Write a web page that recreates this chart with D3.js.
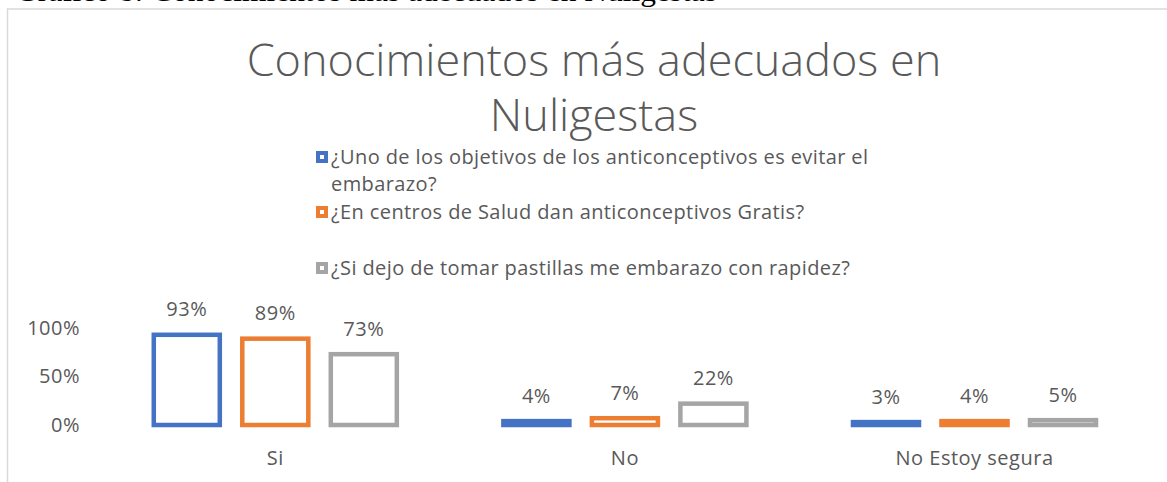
<!DOCTYPE html>
<html>
<head>
<meta charset="utf-8">
<script src="https://cdn.jsdelivr.net/npm/d3@7"></script>
<style>
  html, body { margin: 0; padding: 0; background: #fff; overflow: hidden; }
  svg text { font-family: "Open Sans", "Noto Sans", sans-serif; fill: #595959; }
  .caption { font-family: "Liberation Serif", "Times New Roman", serif; fill: #000; }
</style>
</head>
<body>
<div id="chart"></div>
<script>
const categories = ["Si", "No", "No Estoy segura"];
const seriesNames = [
  "¿Uno de los objetivos de los anticonceptivos es evitar el embarazo?",
  "¿En centros de Salud dan anticonceptivos Gratis?",
  "¿Si dejo de tomar pastillas me embarazo con rapidez?"
];
const seriesValues = [
  [0.93, 0.04, 0.03],
  [0.89, 0.07, 0.04],
  [0.73, 0.22, 0.05]
];
const yTicks = [0, 0.5, 1];
const colors = ["#4472C4", "#ED7D31", "#A5A5A5"];

const W = 1167, H = 482;
const svg = d3.select("#chart").append("svg")
  .attr("width", W).attr("height", H);

// caption of the document, cut at the top edge
svg.append("text").attr("class", "caption")
  .attr("x", 15).attr("y", 1)
  .attr("font-size", 30)
  .attr("textLength", 702).attr("lengthAdjust", "spacingAndGlyphs")
  .text("Gráfico 8: Conocimientos más adecuados en Nuligestas");

// chart area border
svg.append("rect")
  .attr("x", 7.5).attr("y", 9)
  .attr("width", 1200).attr("height", 500)
  .attr("fill", "none").attr("stroke", "#d9d9d9").attr("stroke-width", 1.5);

// title
const title = svg.append("text").attr("text-anchor", "middle")
  .attr("font-size", 45).attr("font-weight", 300);
title.append("tspan").attr("x", 594).attr("y", 76).text("Conocimientos más adecuados en");
title.append("tspan").attr("x", 594).attr("y", 131).text("Nuligestas");

// legend
const legendY = [157, 212, 268];
const legend = svg.append("g");
seriesNames.forEach((name, i) => {
  const g = legend.append("g").attr("transform", `translate(316,${legendY[i]})`);
  g.append("rect")
    .attr("x", 2).attr("y", -4)
    .attr("width", 8).attr("height", 8)
    .attr("fill", "#fff").attr("stroke", colors[i]).attr("stroke-width", 4);
  const t = g.append("text").attr("x", 15).attr("y", 6.5)
    .attr("font-size", 20).attr("letter-spacing", 0.4);
  // wrap long entries
  const words = name.split(" ");
  let line = [];
  let tspan = t.append("tspan").attr("x", 15).attr("dy", 0);
  words.forEach((w) => {
    line.push(w);
    tspan.text(line.join(" "));
    if (tspan.node().getComputedTextLength() > 580 && line.length > 1) {
      line.pop();
      tspan.text(line.join(" "));
      line = [w];
      tspan = t.append("tspan").attr("x", 15).attr("dy", 27).text(w);
    }
  });
});

// plot
const x0 = d3.scaleBand().domain(categories).range([100.5, 1149.3]).padding(0);
const x1 = d3.scaleBand().domain(d3.range(seriesNames.length))
  .range([0, x0.bandwidth()]).paddingInner(0.254).paddingOuter(0.602);
const y = d3.scaleLinear().domain([0, 1]).range([425, 328]);

const yAxis = svg.append("g").attr("transform", "translate(80,0)")
  .call(d3.axisLeft(y).tickValues(yTicks).tickFormat(d3.format(".0%")).tickSize(0).tickPadding(0));
yAxis.select(".domain").remove();
yAxis.selectAll("text").attr("font-size", 20).attr("fill", "#595959")
  .attr("letter-spacing", 0.5)
  .attr("font-family", "Open Sans, Noto Sans, sans-serif");

const groups = svg.append("g").selectAll("g")
  .data(categories).join("g")
  .attr("transform", (c) => `translate(${x0(c)},0)`);

groups.selectAll("rect")
  .data((c, ci) => seriesValues.map((vals, si) => ({ si, v: vals[ci] })))
  .join("rect")
  .attr("x", (d) => x1(d.si))
  .attr("width", x1.bandwidth())
  .attr("y", (d) => y(d.v))
  .attr("height", (d) => y(0) - y(d.v))
  .attr("fill", "#fff")
  .attr("stroke", (d) => colors[d.si])
  .attr("stroke-width", 4.5);

groups.selectAll("text.val")
  .data((c, ci) => seriesValues.map((vals, si) => ({ si, v: vals[ci] })))
  .join("text").attr("class", "val")
  .attr("x", (d) => x1(d.si) + x1.bandwidth() / 2)
  .attr("y", (d) => y(d.v) - 18.5)
  .attr("text-anchor", "middle")
  .attr("font-size", 20)
  .attr("letter-spacing", 0.5)
  .text((d) => d3.format(".0%")(d.v));

const xAxis = svg.append("g").attr("transform", "translate(0,425)")
  .call(d3.axisBottom(x0).tickSize(0).tickPadding(0));
xAxis.select(".domain").remove();
xAxis.selectAll("text").attr("font-size", 20).attr("fill", "#595959")
  .attr("letter-spacing", 0.5)
  .attr("font-family", "Open Sans, Noto Sans, sans-serif")
  .attr("dy", 0).attr("y", 40);
</script>
</body>
</html>
